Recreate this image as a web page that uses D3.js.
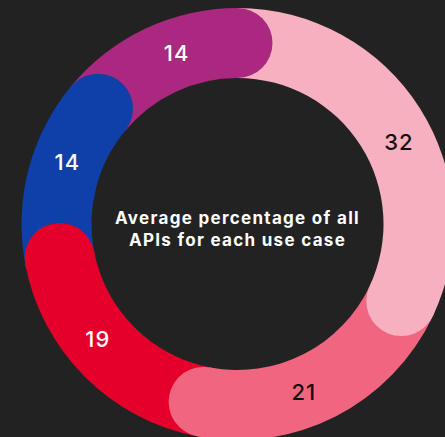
<!DOCTYPE html>
<html>
<head>
<meta charset="utf-8">
<title>Use cases</title>
<script src="https://d3js.org/d3.v7.min.js"></script>
<style>
  html, body { margin: 0; padding: 0; background: #222222; }
  svg { display: block; }
</style>
</head>
<body>
<div id="chart"></div>
<script>
// data, clockwise from 12 o'clock
var useCases = ["A", "B", "C", "D", "E"];
var shares = [32, 21, 19, 14, 14];
var colors = ["#f6b0bf", "#f0657f", "#e4002b", "#0f3fa8", "#aa2880"];
var labelColors = ["#111111", "#111111", "#ffffff", "#ffffff", "#ffffff"];
var centerLines = ["Average percentage of all", "APIs for each use case"];

var width = 445, height = 437;
var cx = 237.5, cy = 224;
var outerR = 216, innerR = 146;
var midR = (outerR + innerR) / 2;
var capR = (outerR - innerR) / 2;
var capAngle = capR / midR;

var svg = d3.select("#chart").append("svg")
    .attr("width", width)
    .attr("height", height);

svg.append("rect")
    .attr("width", width)
    .attr("height", height)
    .attr("fill", "#222222");

var g = svg.append("g")
    .attr("transform", "translate(" + cx + "," + cy + ")");

var data = useCases.map(function(d, i) { return { name: d, value: shares[i], i: i }; });

var pie = d3.pie()
    .sort(null)
    .value(function(d) { return d.value; });

var arcs = pie(data);

var arc = d3.arc()
    .innerRadius(innerR)
    .outerRadius(outerR);

// bands first
g.selectAll("path.band")
    .data(arcs)
    .enter()
    .append("path")
    .attr("class", "band")
    .attr("d", arc)
    .attr("fill", function(d) { return colors[d.data.i]; });

// rounded end caps sit over the start of the next band
g.selectAll("circle.cap")
    .data(arcs)
    .enter()
    .append("circle")
    .attr("class", "cap")
    .attr("cx", function(d) { return midR * Math.sin(d.endAngle); })
    .attr("cy", function(d) { return -midR * Math.cos(d.endAngle); })
    .attr("r", capR)
    .attr("fill", function(d) { return colors[d.data.i]; });

// value labels
g.selectAll("text.val")
    .data(arcs)
    .enter()
    .append("text")
    .attr("class", "val")
    .attr("x", function(d) { var a = (d.startAngle + d.endAngle) / 2 + capAngle / 2; return midR * Math.sin(a); })
    .attr("y", function(d) { var a = (d.startAngle + d.endAngle) / 2 + capAngle / 2; return -midR * Math.cos(a); })
    .attr("dy", "0.36em")
    .attr("text-anchor", "middle")
    .attr("font-family", "Inter, 'Noto Sans', sans-serif")
    .attr("font-weight", 500)
    .attr("font-size", 22)
    .attr("letter-spacing", 1)
    .attr("fill", function(d) { return labelColors[d.data.i]; })
    .text(function(d) { return d.data.value; });

// centre text
g.selectAll("text.center")
    .data(centerLines)
    .enter()
    .append("text")
    .attr("class", "center")
    .attr("x", 0)
    .attr("y", function(d, i) { return i * 22; })
    .attr("text-anchor", "middle")
    .attr("font-family", "Inter, 'Noto Sans', sans-serif")
    .attr("font-weight", 700)
    .attr("font-size", 17)
    .attr("letter-spacing", 1.3)
    .attr("fill", "#ffffff")
    .text(function(d) { return d; });
</script>
</body>
</html>
